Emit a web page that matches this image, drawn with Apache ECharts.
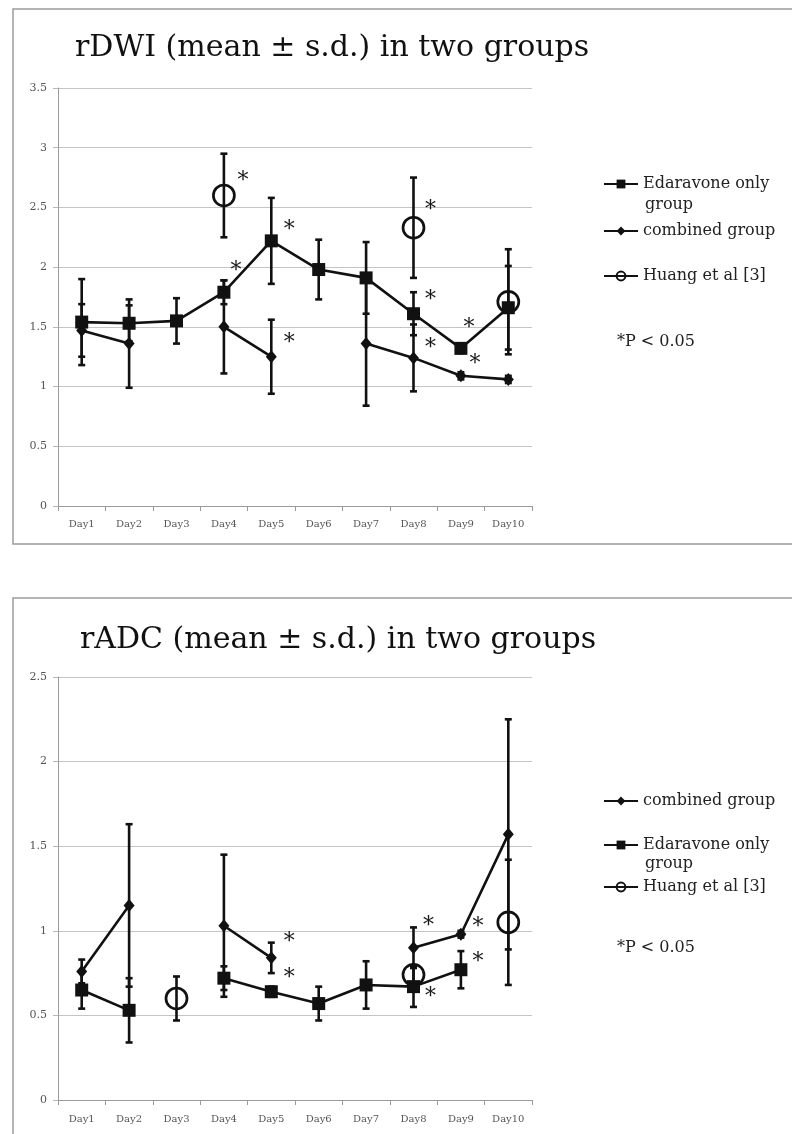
<!DOCTYPE html>
<html>
<head>
<meta charset="utf-8">
<script src="https://cdn.jsdelivr.net/npm/echarts@6/dist/echarts.min.js"></script>
<style>
html,body{margin:0;padding:0;background:#fff;}
#c{width:792px;height:1134px;}
</style>
</head>
<body>
<div id="c"></div>
<script>
// ---------- data ----------
const days = ['Day1','Day2','Day3','Day4','Day5','Day6','Day7','Day8','Day9','Day10'];

// rDWI
const dwiEda      = [1.54, 1.53, 1.55, 1.79, 2.22, 1.98, 1.91, 1.61, 1.32, 1.66];
const dwiEdaSd    = [0.36, 0.15, 0.19, 0.10, 0.36, 0.25, 0.30, 0.18, 0.04, 0.35];
const dwiComb     = [1.47, 1.36, null, 1.50, 1.25, null, 1.36, 1.24, 1.09, 1.06];
const dwiCombSd   = [0.22, 0.37, null, 0.39, 0.31, null, 0.52, 0.28, 0.03, 0.03];
const dwiHuang    = [null, null, null, 2.60, null, null, null, 2.33, null, 1.71];
const dwiHuangSd  = [null, null, null, 0.35, null, null, null, 0.42, null, 0.44];
const dwiEdaSig   = [0, 0, 0, 1, 1, 0, 0, 1, 1, 0];
const dwiCombSig  = [0, 0, 0, 0, 1, 0, 0, 1, 1, 0];
const dwiHuangSig = [0, 0, 0, 1, 0, 0, 0, 1, 0, 0];

// rADC
const adcComb     = [0.76, 1.15, null, 1.03, 0.84, null, null, 0.90, 0.98, 1.57];
const adcCombSd   = [0.07, 0.48, null, 0.42, 0.09, null, null, 0.12, 0.02, 0.68];
const adcEda      = [0.65, 0.53, null, 0.72, 0.64, 0.57, 0.68, 0.67, 0.77, null];
const adcEdaSd    = [0.11, 0.19, null, 0.07, 0.03, 0.10, 0.14, 0.12, 0.11, null];
const adcHuang    = [null, null, 0.60, null, null, null, null, 0.74, null, 1.05];
const adcHuangSd  = [null, null, 0.13, null, null, null, null, 0.05, null, 0.37];
const adcEdaSig   = [0, 0, 0, 0, 1, 0, 0, 1, 1, 0];
const adcCombSig  = [0, 0, 0, 0, 1, 0, 0, 1, 1, 0];
const adcHuangSig = [0, 0, 0, 0, 0, 0, 0, 0, 0, 0];

const dwiTicks = ['0','0.5','1','1.5','2','2.5','3','3.5'];
const adcTicks = ['0','0.5','1','1.5','2','2.5'];

const titleDWI = 'rDWI (mean ± s.d.) in two groups';
const titleADC = 'rADC (mean ± s.d.) in two groups';
const nameEda = 'Edaravone only group';
const nameComb = 'combined group';
const nameHuang = 'Huang et al [3]';
const pNote = '*P < 0.05';

// ---------- style ----------
const SERIF = '"DejaVu Serif", "Liberation Serif", serif';
const INK = '#111';
const LW = 2.6;

// asterisk offsets (style only) keyed by chart/series/day index
const starOffsets = {
  dwi: {
    eda:   {3:[12,-26], 4:[18,-16], 7:[17,-18], 8:[8,-25]},
    comb:  {4:[18,-18], 7:[17,-15], 8:[14,-17]},
    huang: {3:[19,-19], 7:[17,-22]}
  },
  adc: {
    eda:   {4:[18,-18], 7:[17,6], 8:[17,-12]},
    comb:  {4:[18,-21], 7:[15,-26], 8:[17,-12]},
    huang: {}
  }
};

function withStars(vals, sig, offs) {
  return vals.map((v, i) => {
    if (v == null) return null;
    if (!sig[i]) return v;
    const o = offs[i] || [15, -18];
    return {
      value: v,
      label: {
        show: true, formatter: '*', position: 'inside', offset: [o[0], o[1] + 5],
        fontFamily: SERIF, fontSize: 22, color: '#1a1a1a'
      }
    };
  });
}

function errData(vals, sds) {
  const out = [];
  vals.forEach((v, i) => {
    if (v != null && sds[i] != null) out.push([i, v - sds[i], v + sds[i]]);
  });
  return out;
}

function errSeries(name, gi, vals, sds) {
  return {
    type: 'custom', name: name + ' sd', xAxisIndex: gi, yAxisIndex: gi,
    data: errData(vals, sds), encode: {x: 0, y: [1, 2]}, z: 3, silent: true,
    renderItem: function (params, api) {
      const x = api.value(0);
      const lo = api.coord([x, api.value(1)]);
      const hi = api.coord([x, api.value(2)]);
      const w = 3.5;
      const st = {stroke: INK, lineWidth: LW};
      return {type: 'group', children: [
        {type: 'line', shape: {x1: lo[0], y1: lo[1], x2: hi[0], y2: hi[1]}, style: st},
        {type: 'line', shape: {x1: hi[0] - w, y1: hi[1], x2: hi[0] + w, y2: hi[1]}, style: st},
        {type: 'line', shape: {x1: lo[0] - w, y1: lo[1], x2: lo[0] + w, y2: lo[1]}, style: st}
      ]};
    }
  };
}

function lineSeries(name, gi, data, kind) {
  const s = {
    type: 'line', name: name, xAxisIndex: gi, yAxisIndex: gi, data: data,
    connectNulls: false, z: 4,
    lineStyle: {color: INK, width: LW},
    itemStyle: {color: INK},
    emphasis: {disabled: true}
  };
  if (kind === 'rect') { s.symbol = 'rect'; s.symbolSize = 13; }
  if (kind === 'diamond') { s.symbol = 'diamond'; s.symbolSize = [11, 13]; }
  if (kind === 'circle') {
    s.symbol = 'circle'; s.symbolSize = 21;
    s.itemStyle = {color: 'rgba(255,255,255,0)', borderColor: INK, borderWidth: 2.7};
  }
  return s;
}

function xAxis(gi, margin) {
  return {
    type: 'category', gridIndex: gi, data: days, boundaryGap: true,
    axisLine: {lineStyle: {color: '#9a9a9a', width: 1}},
    axisTick: {show: true, length: 5, lineStyle: {color: '#9a9a9a'}},
    axisLabel: {color: '#555', fontFamily: SERIF, fontSize: 10, margin: margin, interval: 0}
  };
}
function yAxis(gi, max, ticks) {
  return {
    type: 'value', gridIndex: gi, min: 0, max: max, interval: 0.5,
    axisLine: {show: true, lineStyle: {color: '#9a9a9a', width: 1}},
    axisTick: {show: true, length: 5, lineStyle: {color: '#b8b8b8'}},
    splitLine: {lineStyle: {color: '#c4c4c4', width: 1}},
    axisLabel: {color: '#555', fontFamily: SERIF, fontSize: 11, margin: 11,
      formatter: v => ticks[Math.round(v / 0.5)]}
  };
}

function legendItem(name, top, text) {
  return {
    data: [name], left: 603, top: top, padding: 0, orient: 'vertical',
    itemWidth: 34, itemHeight: 11, selectedMode: false,
    formatter: () => text,
    textStyle: {fontFamily: SERIF, fontSize: 16, color: '#222'}
  };
}

const chart = echarts.init(document.getElementById('c'), null, {renderer: 'canvas'});

const option = {
  animation: false,
  backgroundColor: '#fff',
  title: [
    {text: titleDWI, left: 75, top: 33, padding: 0,
     textStyle: {fontFamily: SERIF, fontSize: 30, fontWeight: 'normal', color: '#111'}},
    {text: titleADC, left: 80, top: 625, padding: 0,
     textStyle: {fontFamily: SERIF, fontSize: 30, fontWeight: 'normal', color: '#111'}}
  ],
  grid: [
    {left: 58, top: 88, width: 474, height: 418},
    {left: 58, top: 677, width: 474, height: 423}
  ],
  xAxis: [xAxis(0, 13), xAxis(1, 14)],
  yAxis: [yAxis(0, 3.5, dwiTicks), yAxis(1, 2.5, adcTicks)],
  legend: [
    legendItem(nameEda, 176, 'Edaravone only'),
    legendItem(nameComb, 223, 'combined group'),
    legendItem(nameHuang, 268, 'Huang et al [3]'),
    legendItem(nameComb, 793, 'combined group'),
    legendItem(nameEda, 837, 'Edaravone only'),
    legendItem(nameHuang, 879, 'Huang et al [3]')
  ],
  graphic: [
    {type: 'rect', silent: true, shape: {x: 13, y: 9, width: 800, height: 535},
     style: {fill: 'none', stroke: '#9c9c9c', lineWidth: 1.5}},
    {type: 'rect', silent: true, shape: {x: 13, y: 598, width: 800, height: 600},
     style: {fill: 'none', stroke: '#9c9c9c', lineWidth: 1.5}},
    {type: 'text', silent: true, style: {x: 645, y: 205, text: 'group', verticalAlign: 'middle',
      font: '16px ' + SERIF, fill: '#222'}},
    {type: 'text', silent: true, style: {x: 617, y: 342, text: pNote, verticalAlign: 'middle',
      font: '16px ' + SERIF, fill: '#222'}},
    {type: 'text', silent: true, style: {x: 645, y: 864, text: 'group', verticalAlign: 'middle',
      font: '16px ' + SERIF, fill: '#222'}},
    {type: 'text', silent: true, style: {x: 617, y: 948, text: pNote, verticalAlign: 'middle',
      font: '16px ' + SERIF, fill: '#222'}}
  ],
  series: [
    errSeries(nameEda, 0, dwiEda, dwiEdaSd),
    errSeries(nameComb, 0, dwiComb, dwiCombSd),
    errSeries(nameHuang, 0, dwiHuang, dwiHuangSd),
    lineSeries(nameEda, 0, withStars(dwiEda, dwiEdaSig, starOffsets.dwi.eda), 'rect'),
    lineSeries(nameComb, 0, withStars(dwiComb, dwiCombSig, starOffsets.dwi.comb), 'diamond'),
    lineSeries(nameHuang, 0, withStars(dwiHuang, dwiHuangSig, starOffsets.dwi.huang), 'circle'),

    errSeries(nameComb, 1, adcComb, adcCombSd),
    errSeries(nameEda, 1, adcEda, adcEdaSd),
    errSeries(nameHuang, 1, adcHuang, adcHuangSd),
    lineSeries(nameComb, 1, withStars(adcComb, adcCombSig, starOffsets.adc.comb), 'diamond'),
    lineSeries(nameEda, 1, withStars(adcEda, adcEdaSig, starOffsets.adc.eda), 'rect'),
    lineSeries(nameHuang, 1, withStars(adcHuang, adcHuangSig, starOffsets.adc.huang), 'circle')
  ]
};
chart.setOption(option);
</script>
</body>
</html>
